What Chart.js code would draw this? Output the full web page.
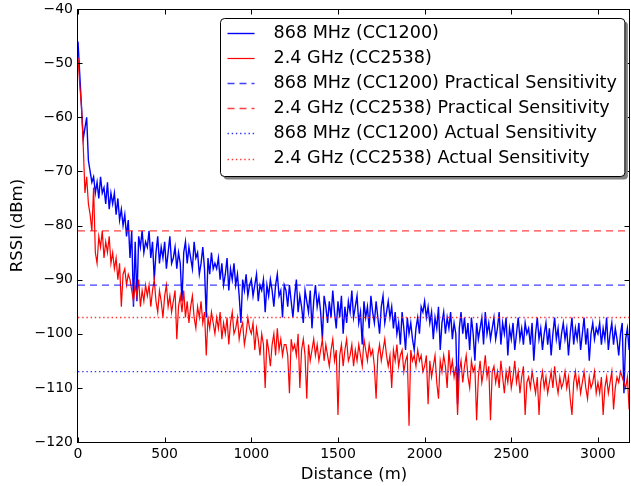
<!DOCTYPE html>
<html>
<head>
<meta charset="utf-8">
<script src="https://cdn.jsdelivr.net/npm/chart.js@4.4.1/dist/chart.umd.min.js"></script>
<style>
  html, body { margin: 0; padding: 0; background: #fff; }
  #wrap { position: relative; width: 631px; height: 486px; }
</style>
</head>
<body>
<div id="wrap"><canvas id="rssiChart"></canvas></div>
<script>
// Distance of each sample (m)
const distances = [
  0, 10, 20, 30, 40, 50, 60, 70, 80, 90, 100, 110, 120, 130, 140, 150, 160, 170, 180, 190,
  200, 210, 220, 230, 240, 250, 260, 270, 280, 290, 300, 310, 320, 330, 340, 350, 360, 370, 380, 390,
  400, 410, 420, 430, 440, 450, 460, 470, 480, 490, 500, 510, 520, 530, 540, 550, 560, 570, 580, 590,
  600, 610, 620, 630, 640, 650, 660, 670, 680, 690, 700, 710, 720, 730, 740, 750, 760, 770, 780, 790,
  800, 810, 820, 830, 840, 850, 860, 870, 880, 890, 900, 910, 920, 930, 940, 950, 960, 970, 980, 990,
  1000, 1010, 1020, 1030, 1040, 1050, 1060, 1070, 1080, 1090, 1100, 1110, 1120, 1130, 1140, 1150, 1160, 1170, 1180, 1190,
  1200, 1210, 1220, 1230, 1240, 1250, 1260, 1270, 1280, 1290, 1300, 1310, 1320, 1330, 1340, 1350, 1360, 1370, 1380, 1390,
  1400, 1410, 1420, 1430, 1440, 1450, 1460, 1470, 1480, 1490, 1500, 1510, 1520, 1530, 1540, 1550, 1560, 1570, 1580, 1590,
  1600, 1610, 1620, 1630, 1640, 1650, 1660, 1670, 1680, 1690, 1700, 1710, 1720, 1730, 1740, 1750, 1760, 1770, 1780, 1790,
  1800, 1810, 1820, 1830, 1840, 1850, 1860, 1870, 1880, 1890, 1900, 1910, 1920, 1930, 1940, 1950, 1960, 1970, 1980, 1990,
  2000, 2010, 2020, 2030, 2040, 2050, 2060, 2070, 2080, 2090, 2100, 2110, 2120, 2130, 2140, 2150, 2160, 2170, 2180, 2190,
  2200, 2210, 2220, 2230, 2240, 2250, 2260, 2270, 2280, 2290, 2300, 2310, 2320, 2330, 2340, 2350, 2360, 2370, 2380, 2390,
  2400, 2410, 2420, 2430, 2440, 2450, 2460, 2470, 2480, 2490, 2500, 2510, 2520, 2530, 2540, 2550, 2560, 2570, 2580, 2590,
  2600, 2610, 2620, 2630, 2640, 2650, 2660, 2670, 2680, 2690, 2700, 2710, 2720, 2730, 2740, 2750, 2760, 2770, 2780, 2790,
  2800, 2810, 2820, 2830, 2840, 2850, 2860, 2870, 2880, 2890, 2900, 2910, 2920, 2930, 2940, 2950, 2960, 2970, 2980, 2990,
  3000, 3010, 3020, 3030, 3040, 3050, 3060, 3070, 3080, 3090, 3100, 3110, 3120, 3130, 3140, 3150, 3160, 3170, 3180
];

// RSSI (dBm), 868 MHz (CC1200)
const rssi868 = [
  -46, -52, -58, -64, -62, -60, -68, -70, -72, -71, -74, -72, -75, -71, -74, -73, -76, -72, -77, -74,
  -76, -74, -78, -75, -79, -77, -80, -78, -82, -79, -86, -81, -95, -83, -94, -82, -84, -81, -85, -83,
  -84, -81, -86, -83, -90, -85, -82, -87, -84, -86, -83, -88, -85, -82, -87, -86, -84, -88, -85, -87,
  -94, -85, -83, -87, -84, -86, -88, -83, -86, -85, -89, -87, -84, -88, -97, -86, -89, -85, -88, -87,
  -88, -86, -90, -87, -91, -89, -86, -92, -88, -90, -87, -91, -89, -93, -98, -90, -92, -89, -93, -91,
  -90, -93, -91, -89, -94, -91, -92, -90, -96, -91, -93, -90, -92, -95, -91, -89, -93, -92, -97, -91,
  -92, -95, -91, -94, -97, -93, -90, -96, -93, -95, -98, -92, -94, -96, -92, -99, -94, -91, -95, -93,
  -96, -101, -93, -95, -98, -94, -97, -92, -96, -99, -94, -97, -93, -100, -95, -98, -94, -96, -92, -97,
  -95, -93, -98, -96, -102, -94, -97, -95, -99, -93, -96, -98, -94, -97, -100, -95, -93, -98, -96, -94,
  -97, -95, -99, -96, -100, -98, -102, -96, -99, -103, -97, -100, -98, -101, -103, -99, -97, -100, -95, -96,
  -94, -97, -95, -98, -96, -101, -97, -99, -95, -103, -98, -96, -100, -97, -99, -96, -101, -98, -100, -113,
  -99, -96, -100, -97, -101, -98, -103, -97, -100, -105, -98, -101, -99, -97, -102, -96, -100, -98, -101, -99,
  -97, -101, -99, -96, -102, -98, -100, -97, -104, -99, -101, -98, -103, -100, -97, -101, -99, -102, -98, -100,
  -99, -102, -98, -105, -100, -97, -101, -99, -103, -100, -98, -102, -99, -104, -100, -97, -101, -99, -103, -100,
  -98, -101, -99, -104, -100, -97, -102, -99, -101, -98, -103, -100, -97, -102, -99, -105, -100, -98, -101, -99,
  -100, -98, -102, -99, -101, -97, -103, -100, -98, -102, -99, -101, -104, -100, -98, -111, -101, -99, -103
];

// RSSI (dBm), 2.4 GHz (CC2538)
const rssi24 = [
  -49, -54, -58, -65, -74, -71, -76, -78, -81, -73, -85, -87, -82, -84, -81, -86, -83, -85, -82, -87,
  -85, -88, -86, -90, -87, -95, -89, -88, -91, -89, -90, -92, -94, -91, -93, -90, -95, -92, -94, -91,
  -93, -91, -95, -92, -90, -94, -96, -92, -94, -97, -93, -91, -95, -93, -96, -94, -92, -101, -95, -93,
  -96, -92, -97, -94, -98, -95, -93, -97, -99, -95, -97, -94, -98, -96, -104, -97, -99, -96, -98, -100,
  -97, -99, -96, -101, -98, -100, -97, -102, -98, -96, -100, -99, -97, -101, -99, -98, -102, -100, -97, -99,
  -100, -98, -103, -99, -101, -104, -100, -102, -110, -101, -103, -106, -102, -100, -104, -99, -103, -101, -104, -102,
  -102, -104, -111, -101, -103, -102, -104, -100, -110, -103, -101, -104, -112, -102, -105, -103, -101, -104, -102, -105,
  -103, -101, -105, -102, -104, -106, -103, -101, -105, -103, -115, -104, -102, -106, -103, -101, -105, -104, -102, -106,
  -103, -105, -102, -104, -106, -101, -103, -105, -102, -104, -103, -106, -112, -104, -102, -105, -103, -101, -104, -106,
  -104, -110, -103, -105, -102, -106, -104, -103, -107, -105, -104, -117, -103, -105, -104, -106, -103, -105, -104, -107,
  -106, -104, -113, -105, -108, -106, -104, -109, -112, -105, -107, -104, -106, -110, -103, -107, -105, -108, -106, -115,
  -107, -105, -109, -106, -104, -108, -110, -105, -107, -106, -116, -108, -105, -109, -107, -104, -108, -106, -116, -107,
  -106, -109, -107, -110, -105, -108, -111, -107, -109, -106, -110, -108, -105, -109, -107, -111, -108, -106, -115, -109,
  -108, -110, -107, -109, -111, -108, -115, -109, -107, -110, -108, -111, -109, -107, -110, -106, -109, -111, -108, -110,
  -109, -107, -110, -108, -112, -115, -109, -107, -110, -108, -111, -109, -107, -110, -112, -108, -110, -109, -107, -111,
  -109, -111, -108, -115, -110, -108, -111, -109, -107, -114, -110, -108, -109, -107, -108, -109, -110, -108, -114
];

// Sensitivity levels (dBm): [868 MHz, 2.4 GHz]
const practicalSensitivity = [-91, -81];
const actualSensitivity = [-107, -97];

// Axis ticks
const xTicks = [0, 500, 1000, 1500, 2000, 2500, 3000];
const yTicks = [-120, -110, -100, -90, -80, -70, -60, -50, -40];

const seriesLabels = [
  '868 MHz (CC1200)',
  '2.4 GHz (CC2538)',
  '868 MHz (CC1200) Practical Sensitivity',
  '2.4 GHz (CC2538) Practical Sensitivity',
  '868 MHz (CC1200) Actual Sensitivity',
  '2.4 GHz (CC2538) Actual Sensitivity'
];

const X_MIN = 0, X_MAX = 3185;
const Y_MIN = -120, Y_MAX = -40;

const toPoints = ys => ys.map((y, i) => ({ x: distances[i], y: y }));
const flatLine = v => [{ x: X_MIN, y: v }, { x: X_MAX, y: v }];
const fmtMinus = v => (v < 0 ? '\u2212' + Math.abs(v) : String(v));

Chart.defaults.font.family = '"DejaVu Sans", sans-serif';
Chart.defaults.font.size = 14;
Chart.defaults.color = '#000';

// frame around the plot with inward ticks on every side
const frameTicks = {
  id: 'frameTicks',
  afterDatasetsDraw(chart) {
    const { ctx, chartArea: a, scales: { x, y } } = chart;
    const L = Math.round(a.left) - 0.5, R = Math.round(a.right) - 0.5;
    const T = Math.round(a.top) + 0.5, B = Math.round(a.bottom) + 0.5;
    ctx.save();
    ctx.strokeStyle = '#000';
    ctx.lineWidth = 1;
    ctx.beginPath();
    x.ticks.forEach(t => {
      const px = Math.round(x.getPixelForValue(t.value)) + 0.5;
      ctx.moveTo(px, B); ctx.lineTo(px, B - 5);
      ctx.moveTo(px, T); ctx.lineTo(px, T + 5);
    });
    y.ticks.forEach(t => {
      const py = Math.round(y.getPixelForValue(t.value)) + 0.5;
      ctx.moveTo(L, py); ctx.lineTo(L + 5, py);
      ctx.moveTo(R, py); ctx.lineTo(R - 5, py);
    });
    ctx.stroke();
    ctx.strokeRect(L, T, R - L, B - T);
    ctx.restore();
  }
};

// boxed legend with shadow, top right inside the plot
const boxLegend = {
  id: 'boxLegend',
  afterDraw(chart) {
    const { ctx, chartArea: a } = chart;
    const sets = chart.data.datasets;
    ctx.save();
    ctx.font = '17.6px "DejaVu Sans", sans-serif';
    const textW = Math.max(...sets.map(d => ctx.measureText(d.label).width));
    const w = 53 + textW + 8, h = 158;
    const left = Math.round(a.right - 6 - w) + 0.5, top = Math.round(a.top + 9) + 0.5;

    const rr = (x0, y0, ww, hh, r) => {
      ctx.beginPath();
      ctx.moveTo(x0 + r, y0);
      ctx.lineTo(x0 + ww - r, y0);
      ctx.arcTo(x0 + ww, y0, x0 + ww, y0 + r, r);
      ctx.lineTo(x0 + ww, y0 + hh - r);
      ctx.arcTo(x0 + ww, y0 + hh, x0 + ww - r, y0 + hh, r);
      ctx.lineTo(x0 + r, y0 + hh);
      ctx.arcTo(x0, y0 + hh, x0, y0 + hh - r, r);
      ctx.lineTo(x0, y0 + r);
      ctx.arcTo(x0, y0, x0 + r, y0, r);
      ctx.closePath();
    };
    rr(left + 3, top + 3, w, h, 4);
    ctx.fillStyle = '#808080';
    ctx.fill();
    rr(left, top, w, h, 4);
    ctx.fillStyle = '#fff';
    ctx.fill();
    ctx.strokeStyle = '#000';
    ctx.lineWidth = 1;
    ctx.stroke();

    ctx.textBaseline = 'middle';
    ctx.textAlign = 'left';
    sets.forEach((d, i) => {
      const cy = top + 14.5 + i * 25.1;
      ctx.save();
      ctx.strokeStyle = d.borderColor;
      ctx.lineWidth = d.borderWidth;
      ctx.setLineDash(d.borderDash || []);
      ctx.beginPath();
      ctx.moveTo(left + 7, Math.round(cy) + 0.5);
      ctx.lineTo(left + 34, Math.round(cy) + 0.5);
      ctx.stroke();
      ctx.restore();
      ctx.fillStyle = '#000';
      ctx.fillText(d.label, left + 53, cy);
    });
    ctx.restore();
  }
};

const ctx1 = document.getElementById('rssiChart');

new Chart(ctx1, {
  type: 'line',
  data: {
    datasets: [
      { label: seriesLabels[0], data: toPoints(rssi868), borderColor: '#0000ff', borderWidth: 1.4, order: 6 },
      { label: seriesLabels[1], data: toPoints(rssi24), borderColor: '#ff0000', borderWidth: 1.2, order: 5 },
      { label: seriesLabels[2], data: flatLine(practicalSensitivity[0]), borderColor: 'rgba(0,0,255,0.75)', borderWidth: 1.3, borderDash: [7, 5], order: 4 },
      { label: seriesLabels[3], data: flatLine(practicalSensitivity[1]), borderColor: 'rgba(255,0,0,0.75)', borderWidth: 1.3, borderDash: [7, 5], order: 3 },
      { label: seriesLabels[4], data: flatLine(actualSensitivity[0]), borderColor: '#3333ff', borderWidth: 1.4, borderDash: [1.4, 2.8], order: 2 },
      { label: seriesLabels[5], data: flatLine(actualSensitivity[1]), borderColor: '#ff3333', borderWidth: 1.4, borderDash: [1.4, 2.8], order: 1 }
    ]
  },
  options: {
    responsive: true,
    maintainAspectRatio: false,
    animation: false,
    events: [],
    elements: {
      point: { radius: 0 },
      line: { tension: 0, fill: false }
    },
    layout: { padding: { top: 9, right: 1, left: 0, bottom: 0 } },
    plugins: {
      legend: { display: false },
      tooltip: { enabled: false }
    },
    scales: {
      x: {
        type: 'linear',
        min: X_MIN,
        max: X_MAX,
        grid: { display: false, drawTicks: false },
        border: { display: false },
        afterBuildTicks(scale) { scale.ticks = xTicks.map(v => ({ value: v })); },
        ticks: { autoSkip: false, maxRotation: 0, padding: 4, callback: v => String(v) },
        title: { display: true, text: 'Distance (m)', font: { size: 16.5 }, padding: { top: 0, bottom: 1 } },
        afterFit(scale) { scale.height = 44; scale.paddingLeft = 0; scale.paddingRight = 0; }
      },
      y: {
        type: 'linear',
        min: Y_MIN,
        max: Y_MAX,
        grid: { display: false, drawTicks: false },
        border: { display: false },
        afterBuildTicks(scale) { scale.ticks = yTicks.map(v => ({ value: v })); },
        ticks: { padding: 5, callback: fmtMinus },
        title: { display: true, text: 'RSSI (dBm)', font: { size: 16.5 }, padding: { top: 8, bottom: 0 } },
        afterFit(scale) { scale.width = 78; scale.paddingTop = 0; scale.paddingBottom = 0; }
      }
    }
  },
  plugins: [frameTicks, boxLegend]
});
</script>
</body>
</html>
